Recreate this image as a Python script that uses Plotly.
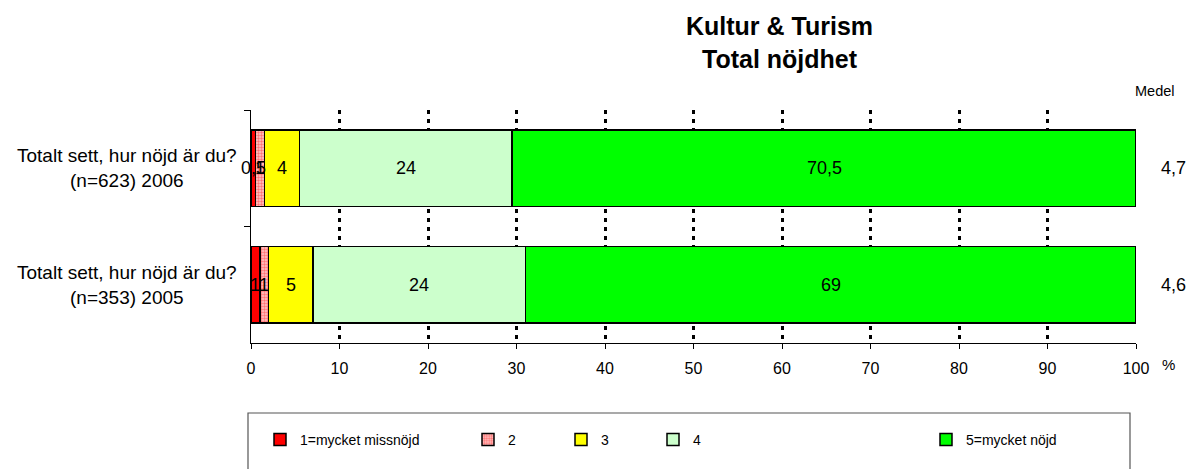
import plotly.graph_objects as go

# ---- data ----
categories = ["Totalt sett, hur nöjd är du?<br>(n=623) 2006",
              "Totalt sett, hur nöjd är du?<br>(n=353) 2005"]
series_names = ["1=mycket missnöjd", "2", "3", "4", "5=mycket nöjd"]
values_1 = [0.5, 1]
values_2 = [1, 1]
values_3 = [4, 5]
values_4 = [24, 24]
values_5 = [70.5, 69]
medel = ["4,7", "4,6"]
x_ticks = [0, 10, 20, 30, 40, 50, 60, 70, 80, 90, 100]

series_values = [values_1, values_2, values_3, values_4, values_5]
colors = ["#FF0000", "#FFFFFF", "#FFFF00", "#CCFFCC", "#00FF00"]
legend_ids = ["legend", "legend2", "legend3", "legend4", "legend5"]
legend_text_px = [300, 508, 601, 693, 966]

W, H = 1189, 469
L, R, T, B = 251, 53, 110, 126
pw = W - L - R
ph = H - T - B

def fmt(v):
    return ("%g" % v).replace(".", ",")

def py(px_y):
    return (T + ph - px_y) / ph

def px(px_x):
    return (px_x - L) / pw

fig = go.Figure()
for i, (name, vals) in enumerate(zip(series_names, series_values)):
    marker = dict(color=colors[i], line=dict(color="black", width=1.5))
    if i == 1:
        marker["pattern"] = dict(shape=".", fgcolor="#FF2020", bgcolor="#FFC8C8",
                                 size=3, solidity=0.5)
    fig.add_trace(go.Bar(
        y=categories, x=vals, name=name, orientation="h",
        marker=marker, legend=legend_ids[i], hoverinfo="skip",
    ))

# segment labels
for j, cat in enumerate(categories):
    cum = 0
    for vals in series_values:
        v = vals[j]
        fig.add_annotation(x=cum + v / 2, y=cat, xref="x", yref="y",
                           text=fmt(v), showarrow=False,
                           font=dict(family="Arial", size=18, color="black"))
        cum += v
    # category labels
    fig.add_annotation(x=px(239), xref="paper", y=cat, yref="y",
                       text=cat, showarrow=False, xanchor="right", align="center",
                       font=dict(family="Arial", size=19, color="black"))
    # medel
    fig.add_annotation(x=px(1173), xref="paper", y=cat, yref="y",
                       text=medel[j], showarrow=False, xanchor="center",
                       font=dict(family="Arial", size=18, color="black"))

fig.add_annotation(x=px(1155), xref="paper", y=py(91), yref="paper",
                   text="Medel", showarrow=False, xanchor="center", yanchor="middle",
                   font=dict(family="Arial", size=14.5, color="black"))
fig.add_annotation(x=px(1168), xref="paper", y=py(364), yref="paper",
                   text="%", showarrow=False, xanchor="center", yanchor="middle",
                   font=dict(family="Arial", size=15, color="black"))

# title
fig.add_annotation(x=710 / W, xref="paper", y=py(42), yref="paper",
                   text="<b>Kultur & Turism<br>Total nöjdhet</b>", showarrow=False,
                   xanchor="center", yanchor="middle", align="center",
                   font=dict(family="Arial", size=25, color="black"))

# legend box
fig.add_shape(type="rect", xref="paper", yref="paper",
              x0=px(248), x1=px(1130), y0=py(490), y1=py(413),
              line=dict(color="#555555", width=1.2), fillcolor="rgba(0,0,0,0)",
              layer="below")

legend_layouts = {}
for lid, tx in zip(legend_ids, legend_text_px):
    legend_layouts[lid] = dict(
        x=px(tx - 40), xanchor="left",
        y=py(440), yanchor="middle",
        orientation="h", bgcolor="rgba(0,0,0,0)", borderwidth=0,
        font=dict(family="Arial", size=14, color="black"),
        itemwidth=30,
    )

fig.update_layout(
    width=W, height=H,
    margin=dict(l=L, r=R, t=T, b=B),
    barmode="stack", bargap=0.34,
    plot_bgcolor="white", paper_bgcolor="white",
    font=dict(family="Arial", size=15, color="black"),
    xaxis=dict(range=[0, 100], tickvals=x_ticks, ticktext=[str(t) for t in x_ticks],
               showgrid=True, gridcolor="black", gridwidth=2.5, griddash="4px,5px",
               zeroline=False, showline=True, linecolor="black", linewidth=1.2,
               ticks="outside", ticklen=5, tickcolor="black", ticklabelstandoff=6,
               tickfont=dict(family="Arial", size=16, color="black")),
    yaxis=dict(autorange="reversed", showticklabels=False, showgrid=False,
               showline=True, linecolor="black", linewidth=1.2,
               ticks="outside", tickson="boundaries", ticklen=6, tickcolor="black",
               zeroline=False),
    showlegend=True,
    **legend_layouts,
)

fig.write_html("out.html",
               config={"displayModeBar": False},
               post_script="document.body.style.margin='0';document.body.style.padding='0';")
